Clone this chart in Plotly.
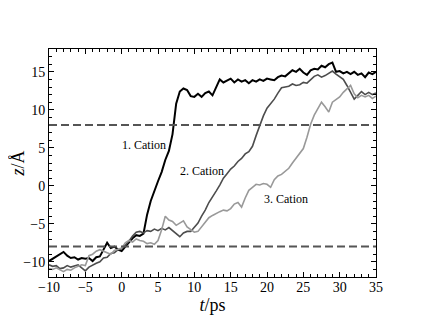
import plotly.graph_objects as go

# time axis (ps), sampled every 0.5 ps
t_ps = [
    -10.0, -9.5, -9.0, -8.5, -8.0, -7.5, -7.0, -6.5, -6.0, -5.5,
    -5.0, -4.5, -4.0, -3.5, -3.0, -2.5, -2.0, -1.5, -1.0, -0.5,
    0.0, 0.5, 1.0, 1.5, 2.0, 2.5, 3.0, 3.5, 4.0, 4.5,
    5.0, 5.5, 6.0, 6.5, 7.0, 7.5, 8.0, 8.5, 9.0, 9.5,
    10.0, 10.5, 11.0, 11.5, 12.0, 12.5, 13.0, 13.5, 14.0, 14.5,
    15.0, 15.5, 16.0, 16.5, 17.0, 17.5, 18.0, 18.5, 19.0, 19.5,
    20.0, 20.5, 21.0, 21.5, 22.0, 22.5, 23.0, 23.5, 24.0, 24.5,
    25.0, 25.5, 26.0, 26.5, 27.0, 27.5, 28.0, 28.5, 29.0, 29.5,
    30.0, 30.5, 31.0, 31.5, 32.0, 32.5, 33.0, 33.5, 34.0, 34.5,
    35.0,
]

# z position (Angstrom) of each cation
cation1_z = [
    -9.9, -9.6, -9.4, -9.0, -8.7, -9.2, -9.5, -9.4, -9.7, -9.5,
    -9.6, -9.5, -9.9, -9.4, -9.3, -8.4, -7.5, -8.2, -8.0, -8.4,
    -8.6, -8.0, -7.4, -6.9, -6.5, -6.6, -6.3, -3.8, -2.0, -0.6,
    0.6, 1.8, 3.4, 4.6, 6.8, 10.8, 12.4, 12.8, 12.6, 11.8,
    11.7, 12.1, 11.7, 12.2, 12.4, 11.9, 13.0, 14.0, 13.6, 13.9,
    14.1, 13.6, 14.0, 13.7, 13.9, 13.5, 13.9, 13.7, 14.0, 13.8,
    14.1, 14.0, 13.9, 14.3, 14.5, 14.4, 14.8, 15.2, 15.0, 15.4,
    14.9, 14.6, 15.2, 15.4, 15.3, 15.8, 15.6, 16.0, 16.2, 15.0,
    15.1, 14.8, 15.0, 14.7, 15.0, 14.6, 14.8, 14.3, 14.9, 14.7,
    15.0,
]

cation2_z = [
    -10.4, -10.6, -10.5, -10.9, -10.8, -10.5, -10.7, -10.6, -10.4, -10.8,
    -11.2, -10.7, -10.4, -10.2, -10.0, -9.5, -9.4, -8.9, -8.8, -8.4,
    -8.3, -7.8, -7.3, -6.6, -6.1, -6.0, -6.2, -5.9, -6.0, -5.7,
    -5.9, -5.6, -5.8, -5.5, -5.9, -6.2, -6.7, -6.2, -6.0, -6.0,
    -5.4, -4.9, -4.0, -3.2, -2.2, -1.5, -0.7, 0.1, 1.0, 1.6,
    2.2, 2.6, 3.2, 3.6, 4.2, 4.5, 5.2, 6.6, 8.0, 9.2,
    10.2, 10.8, 11.4, 12.2, 12.9, 13.0, 13.1, 13.4, 13.2, 13.3,
    13.6, 13.5, 13.9, 14.4, 14.6, 14.3, 14.5, 14.8, 15.1, 14.7,
    14.4, 14.0, 13.2, 12.3, 11.4, 11.9, 12.4, 12.0, 12.3, 12.0,
    12.2,
]

cation3_z = [
    -10.9, -11.0, -10.8, -11.1, -11.3, -11.0, -11.1, -10.8, -10.6, -10.4,
    -10.5, -9.2, -9.0, -8.6, -8.4, -8.6, -8.9, -9.0, -8.5, -8.3,
    -8.2, -7.5, -7.2, -7.4, -7.0, -7.2, -7.3, -7.6, -7.5, -7.7,
    -7.2, -5.8, -4.0, -4.5, -4.7, -5.2, -4.9, -4.6, -5.4, -5.8,
    -6.1, -6.0, -5.4, -4.7, -4.2, -3.9, -3.6, -3.4, -3.2, -3.3,
    -3.0, -2.4, -2.2, -2.8, -1.6, -0.6, -0.2, 0.2, 0.1, 0.3,
    0.2, -0.2, 0.8, 1.3, 1.5, 1.9, 2.3, 3.0, 3.6, 4.2,
    4.9, 6.4, 8.1, 9.3, 10.2, 11.0, 10.4, 9.7, 11.0, 11.4,
    11.7, 12.3, 12.8, 13.2, 12.1, 11.6, 11.9, 11.7, 11.9, 11.5,
    11.8,
]

series_names = ["1. Cation", "2. Cation", "3. Cation"]
label_t = [3.1, 11.0, 22.6]
label_z = [5.4, 2.0, -1.7]
threshold_z = [8, -8]

colors = ["#000000", "#4d4d4d", "#999999"]
widths = [2, 1.6, 1.6]
serif = "Liberation Serif"

fig = go.Figure()

for z_val in threshold_z:
    fig.add_hline(y=z_val, line=dict(color="#555555", width=2, dash="8px,4px"))

for name, z, col, w in zip(series_names, [cation1_z, cation2_z, cation3_z], colors, widths):
    fig.add_trace(go.Scatter(
        x=t_ps, y=z, mode="lines", name=name,
        line=dict(color=col, width=w),
    ))

for name, tx, zy in zip(series_names, label_t, label_z):
    fig.add_annotation(x=tx, y=zy, text=name, showarrow=False,
                       font=dict(family=serif, size=12, color="#000000"))

axis_common = dict(
    showline=True, linecolor="#000000", linewidth=1, mirror="ticks",
    ticks="inside", ticklen=5, tickwidth=1, tickcolor="#000000",
    showgrid=False, zeroline=False, automargin=False,
    tickfont=dict(family=serif, size=14, color="#000000"),
    minor=dict(dtick=1, ticks="inside", ticklen=3, tickcolor="#000000", showgrid=False),
)

fig.update_xaxes(range=[-10, 35], dtick=5, tick0=-10, ticklabelstandoff=-3,
                 title=dict(text="<i>t</i>/ps", font=dict(family=serif, size=18, color="#000000"), standoff=1),
                 **axis_common)
fig.update_yaxes(range=[-12, 18], dtick=5, tick0=0,
                 title=dict(text="<i>z</i>/Å", font=dict(family=serif, size=18, color="#000000"), standoff=12),
                 **axis_common)

# page body has an 8px margin, so the figure is shrunk to fit the window
fig.update_layout(
    width=416, height=319,
    margin=dict(l=41, r=48, t=41, b=50),
    paper_bgcolor="white", plot_bgcolor="white",
    showlegend=False,
    font=dict(family=serif),
)

fig.write_html("out.html")
